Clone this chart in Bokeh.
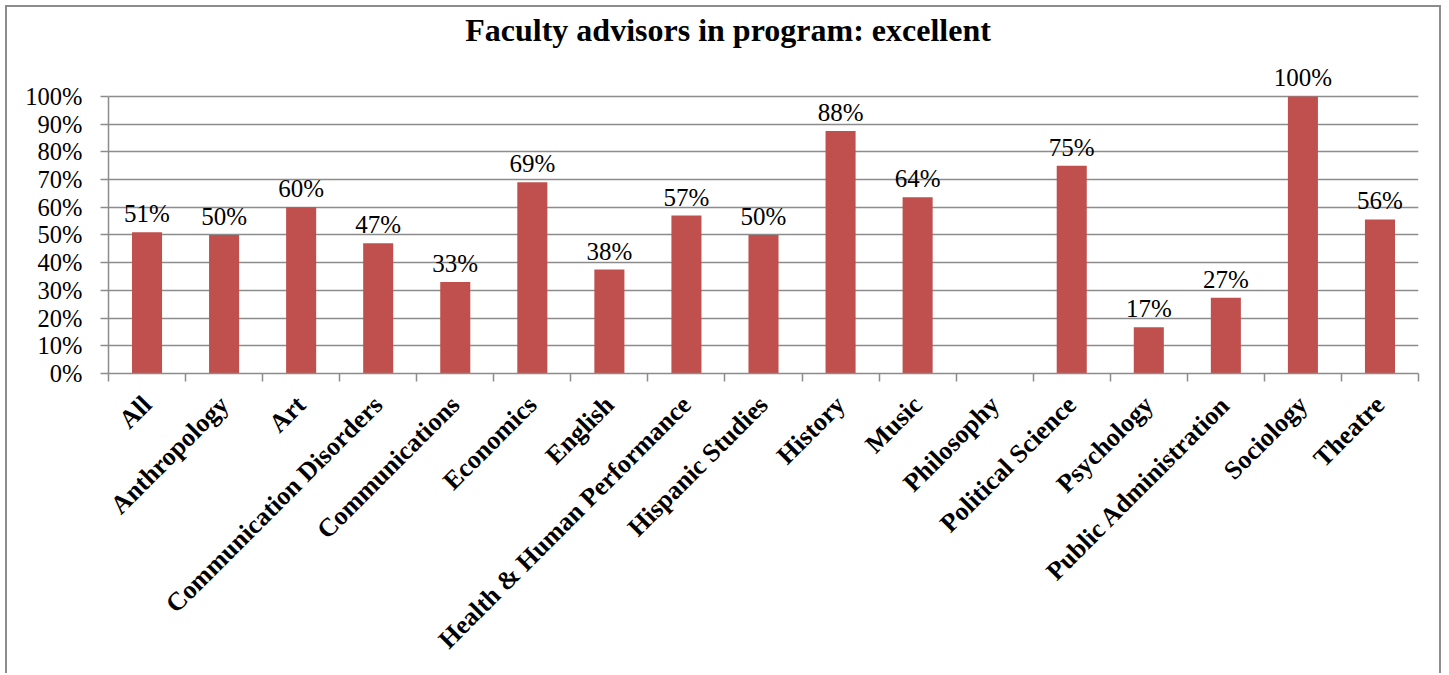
import math
import numpy as np
from bokeh.plotting import figure
from bokeh.models import ColumnDataSource, Range1d, FixedTicker, PrintfTickFormatter, LabelSet, Label
from bokeh.core.properties import value
from bokeh.embed import file_html
from bokeh.resources import INLINE

categories = ["All", "Anthropology", "Art", "Communication Disorders", "Communications",
              "Economics", "English", "Health & Human Performance", "Hispanic Studies",
              "History", "Music", "Philosophy", "Political Science", "Psychology",
              "Public Administration", "Sociology", "Theatre"]
values = [51, 50, 60, 47, 33, 69, 37.5, 57, 50, 87.5, 63.6, 0, 75, 16.7, 27.3, 100, 55.6]
value_labels = ["51%", "50%", "60%", "47%", "33%", "69%", "38%", "57%", "50%", "88%",
                "64%", "", "75%", "17%", "27%", "100%", "56%"]
y_ticks = [0, 10, 20, 30, 40, 50, 60, 70, 80, 90, 100]
title_text = "Faculty advisors in program: excellent"

n = len(categories)
xs = np.arange(n) + 0.5
src = ColumnDataSource(dict(x=xs, value=values, label=value_labels))

GRAY = "#8c8c8c"
SERIF = "Liberation Serif"

p = figure(width=1436, height=668, x_range=Range1d(0, n), y_range=Range1d(0, 132.1),
           output_backend="svg", toolbar_location=None,
           min_border_left=101, min_border_right=25, min_border_top=0, min_border_bottom=302)
p.outline_line_color = None
p.background_fill_color = "white"
p.border_fill_color = "white"
p.styles = {"border-top": "2px solid " + GRAY, "border-left": "2px solid " + GRAY,
            "border-right": "2px solid " + GRAY, "margin": "5px 0 0 5px"}

p.add_layout(Label(x=8.04, y=123.8, text=title_text, text_font=SERIF,
                   text_font_size="32px", text_font_style="bold", text_color="black",
                   text_align="center", text_baseline="alphabetic"))

p.vbar(x="x", top="value", width=0.39, source=src, fill_color="#C0504D", line_color=None)

labels = LabelSet(x="x", y="value", text="label", source=src, y_offset=5,
                  text_font=value(SERIF), text_font_size="25px", text_color="black",
                  text_align="center", text_baseline="bottom")
p.add_layout(labels)

# x axis
xa = p.xaxis[0]
xa.ticker = FixedTicker(ticks=list(xs), minor_ticks=list(range(n + 1)))
xa.major_label_overrides = {float(xv): c for xv, c in zip(xs, categories)}
xa.major_label_orientation = math.pi / 4
xa.major_tick_out = 0
xa.major_tick_in = 0
xa.minor_tick_out = 8
xa.minor_tick_in = 0
xa.minor_tick_line_color = GRAY
xa.minor_tick_line_width = 1.5
xa.axis_line_color = GRAY
xa.axis_line_width = 1.5
xa.major_label_text_font = SERIF
xa.major_label_text_font_style = "bold"
xa.major_label_text_font_size = "26px"
xa.major_label_text_color = "black"
xa.major_label_standoff = 19

# y axis
ya = p.yaxis[0]
ya.bounds = (0, 100)
ya.ticker = FixedTicker(ticks=y_ticks, minor_ticks=[])
ya.formatter = PrintfTickFormatter(format="%d%%")
ya.major_tick_out = 8
ya.major_tick_in = 0
ya.major_tick_line_color = GRAY
ya.major_tick_line_width = 1.5
ya.minor_tick_line_color = None
ya.axis_line_color = GRAY
ya.axis_line_width = 1.5
ya.major_label_text_font = SERIF
ya.major_label_text_font_size = "24.5px"
ya.major_label_text_color = "black"
ya.major_label_standoff = 18

p.xgrid.grid_line_color = None
p.ygrid.ticker = FixedTicker(ticks=y_ticks)
p.ygrid.grid_line_color = GRAY
p.ygrid.grid_line_width = 1.5

open("out.html", "w").write(file_html(p, INLINE))
